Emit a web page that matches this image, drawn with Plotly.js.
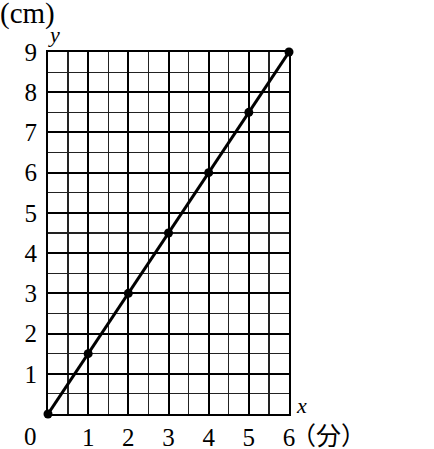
<!DOCTYPE html>
<html>
<head>
<meta charset="utf-8">
<script src="https://cdn.plot.ly/plotly-3.0.1.min.js"></script>
<style>
  html, body { margin: 0; padding: 0; background: #fff; }
  #chart { width: 434px; height: 449px; }
</style>
</head>
<body>
<div id="chart"></div>
<script>
// minutes and length (cm)
const minutes = [0, 1, 2, 3, 4, 5, 6];
const lengths = [0, 1.5, 3, 4.5, 6, 7.5, 9];

const xTickVals = [0, 1, 2, 3, 4, 5, 6];
const xTickText = ["", "1", "2", "3", "4", "5", "6"];
const yTickVals = [0, 1, 2, 3, 4, 5, 6, 7, 8, 9];
const yTickText = ["", "1", "2", "3", "4", "5", "6", "7", "8", "9"];

const W = 434, H = 449;
const margin = { l: 48, r: 145, t: 52, b: 35 };
const plotW = W - margin.l - margin.r;
const plotH = H - margin.t - margin.b;

// pixel position -> paper coordinates
const px = x => (x - margin.l) / plotW;
const py = y => (H - margin.b - y) / plotH;

const serif = "'Liberation Serif', 'DejaVu Serif', serif";
const cjk = "'Noto Sans CJK JP', sans-serif";

function axis(range, vals, text, standoff) {
    return {
        range: range,
        tickmode: "array",
        tickvals: vals,
        ticktext: text,
        ticks: "",
        ticklabelstandoff: standoff,
        tickfont: { family: serif, size: 25, color: "#000" },
        showgrid: true,
        gridcolor: "#000",
        gridwidth: 2,
        minor: { dtick: 0.5, tick0: 0, showgrid: true, gridcolor: "#222", gridwidth: 1.2, ticks: "" },
        showline: true,
        mirror: true,
        linecolor: "#000",
        linewidth: 2,
        zeroline: false,
        fixedrange: true
    };
}

const trace = {
    x: minutes,
    y: lengths,
    type: "scatter",
    mode: "lines+markers",
    line: { color: "#000", width: 3 },
    marker: { color: "#000", size: 9 },
    cliponaxis: false,
    hoverinfo: "skip"
};

function label(text, x, y, font, xanchor) {
    return {
        text: text,
        xref: "paper", yref: "paper",
        x: px(x), y: py(y),
        xanchor: xanchor || "center", yanchor: "middle",
        showarrow: false,
        font: font
    };
}

const layout = {
    width: W,
    height: H,
    margin: margin,
    paper_bgcolor: "#fff",
    plot_bgcolor: "#fff",
    showlegend: false,
    xaxis: axis([0, 6], xTickVals, xTickText, 0),
    yaxis: axis([0, 9], yTickVals, yTickText, 4),
    annotations: [
        label("0", 30, 436, { family: serif, size: 25, color: "#000" }),
        label("(cm)", -2, 13, { family: serif, size: 29, color: "#000" }, "left"),
        label("<i>y</i>", 54, 34, { family: serif, size: 22, color: "#000" }),
        label("<i>x</i>", 301, 405, { family: serif, size: 22, color: "#000" }),
        label("（分）", 289, 434, { family: cjk, size: 25, color: "#000" }, "left")
    ]
};

Plotly.newPlot("chart", [trace], layout, { staticPlot: true, displayModeBar: false });
</script>
</body>
</html>
